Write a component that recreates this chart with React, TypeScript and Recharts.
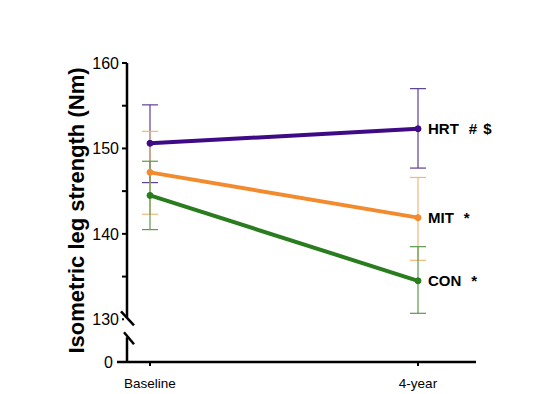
import { LineChart, Line, XAxis, YAxis, ErrorBar, LabelList } from 'recharts';

const timepoints = ['Baseline', '4-year'];
const hrt = [150.6, 152.3];
const hrtErr: [number, number][] = [[4.6, 4.5], [4.6, 4.7]];
const mit = [147.2, 141.9];
const mitErr: [number, number][] = [[4.9, 4.8], [5.0, 4.7]];
const con = [144.5, 134.5];
const conErr: [number, number][] = [[4.0, 4.0], [3.8, 4.0]];
const yTicks = [125, 130, 135, 140, 145, 150, 155, 160];
const majorTicks = [130, 140, 150, 160];
// group name, then the significance marks
const seriesLabels = {
  hrt: ['HRT', '#', '$'],
  mit: ['MIT', '*'],
  con: ['CON', '*'],
};

const data = timepoints.map((t, i) => ({
  t,
  hrt: hrt[i],
  hrtErr: hrtErr[i],
  mit: mit[i],
  mitErr: mitErr[i],
  con: con[i],
  conErr: conErr[i],
}));

const font = '"Liberation Sans", Arial, Helvetica, sans-serif';

// y ticks drawn by hand: minor ticks, the axis break at 130 and the "0" at the bottom
const YTick = (props: any) => {
  const { x, y, payload } = props;
  const v = payload.value;
  if (v === 125) {
    return (
      <g>
        <line x1={x - 10} y1={y} x2={x} y2={y} stroke="#000" strokeWidth={2.5} />
        <text x={x - 14} y={y} dy="0.36em" textAnchor="end" fontSize={16} fontFamily={font} fill="#000">0</text>
      </g>
    );
  }
  const isMajor = majorTicks.includes(v);
  return (
    <g>
      <line x1={x - 5} y1={y} x2={x} y2={y} stroke="#000" strokeWidth={2} />
      {isMajor && (
        <text x={x - 8} y={y} dy="0.36em" textAnchor="end" fontSize={16} fontFamily={font} fill="#000">{v}</text>
      )}
      {v === 130 && (
        <g>
          <rect x={x - 3} y={y - 2} width={6} height={20} fill="#fff" />
          <line x1={x - 6} y1={y - 8} x2={x + 7} y2={y + 6} stroke="#000" strokeWidth={2.5} />
          <line x1={x - 3} y1={y + 13} x2={x + 7} y2={y + 25} stroke="#000" strokeWidth={2.5} />
        </g>
      )}
    </g>
  );
};

const YLabel = (props: any) => {
  const { viewBox } = props;
  const cx = 76;
  const cy = viewBox.y + viewBox.height / 2 - 2;
  return (
    <text
      x={cx}
      y={cy}
      transform={`rotate(-90, ${cx}, ${cy})`}
      textAnchor="middle"
      dominantBaseline="central"
      fontSize={22}
      fontWeight="bold"
      fontFamily={font}
      fill="#000"
    >
      Isometric leg strength (Nm)
    </text>
  );
};

const endLabel = (parts: string[]) => (props: any) => {
  const { x, y, index } = props;
  if (index !== timepoints.length - 1) return null;
  return (
    <text x={x + 10} y={y} dy="0.36em" fontSize={15} fontWeight="bold" fontFamily={font} fill="#000">
      {parts.map((p, i) => (
        <tspan key={i} dx={i === 0 ? 0 : i === 1 ? 10 : 6}>{p}</tspan>
      ))}
    </text>
  );
};

export default function App() {
  return (
    <div style={{ position: 'absolute', left: 0, top: 0, background: '#fff' }}>
      <LineChart width={540} height={394} data={data} margin={{ top: 63, right: 64, bottom: 0, left: 0 }}>
        <XAxis
          dataKey="t"
          height={32}
          padding={{ left: 23, right: 58 }}
          axisLine={{ stroke: '#000', strokeWidth: 2.5 }}
          tickLine={{ stroke: '#000', strokeWidth: 2 }}
          tickSize={4}
          tickMargin={12}
          tick={{ fontSize: 13.5, fontFamily: font, fill: '#000' }}
        />
        <YAxis
          width={127}
          domain={[125, 160]}
          ticks={yTicks}
          interval={0}
          axisLine={{ stroke: '#000', strokeWidth: 2.5 }}
          tickLine={false}
          tickSize={0}
          tickMargin={0}
          tick={<YTick />}
          label={<YLabel />}
        />
        <Line dataKey="hrt" stroke="#3f0a86" strokeWidth={4} dot={{ r: 3, strokeWidth: 1, fill: '#3f0a86', stroke: '#3f0a86' }} isAnimationActive={false}>
          <ErrorBar dataKey="hrtErr" width={8} strokeWidth={1.2} stroke="#5e3f92" />
          <LabelList dataKey="hrt" content={endLabel(seriesLabels.hrt)} />
        </Line>
        <Line dataKey="mit" stroke="#f28a2e" strokeWidth={4} dot={{ r: 3, strokeWidth: 1, fill: '#f28a2e', stroke: '#f28a2e' }} isAnimationActive={false}>
          <ErrorBar dataKey="mitErr" width={8} strokeWidth={1.2} stroke="#f0b878" />
          <LabelList dataKey="mit" content={endLabel(seriesLabels.mit)} />
        </Line>
        <Line dataKey="con" stroke="#2a7d1e" strokeWidth={4} dot={{ r: 3, strokeWidth: 1, fill: '#2a7d1e', stroke: '#2a7d1e' }} isAnimationActive={false}>
          <ErrorBar dataKey="conErr" width={8} strokeWidth={1.2} stroke="#5c9a4c" />
          <LabelList dataKey="con" content={endLabel(seriesLabels.con)} />
        </Line>
      </LineChart>
    </div>
  );
}
